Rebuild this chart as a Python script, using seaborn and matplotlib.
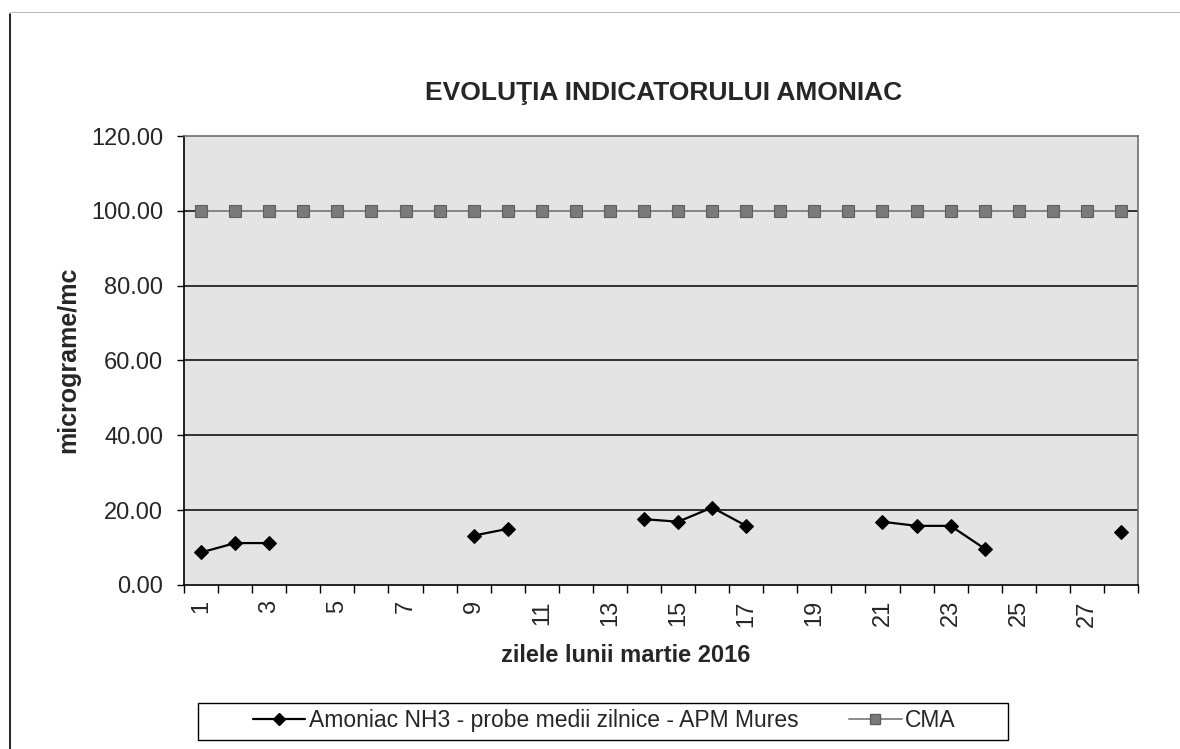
import numpy as np
import pandas as pd
import seaborn as sns
import matplotlib.pyplot as plt
from matplotlib.lines import Line2D
from matplotlib.patches import Rectangle
from matplotlib.ticker import FixedLocator, FixedFormatter

# -----------------------------
# DATA
# -----------------------------
days = list(range(1, 29))
amoniac = [8.7, 11.2, 11.2, np.nan, np.nan, np.nan, np.nan, np.nan, 13.2, 15.0,
           np.nan, np.nan, np.nan, 17.6, 16.9, 20.7, 15.8, np.nan, np.nan, np.nan,
           16.9, 15.8, 15.8, 9.7, np.nan, np.nan, np.nan, 14.2]
cma = [100.0] * 28
y_ticks = [0, 20, 40, 60, 80, 100, 120]
x_labels = [1, 3, 5, 7, 9, 11, 13, 15, 17, 19, 21, 23, 25, 27]

title = "EVOLUŢIA INDICATORULUI AMONIAC"
label_nh3 = "Amoniac NH3 - probe medii zilnice - APM Mures"
label_cma = "CMA"

# -----------------------------
# SETUP
# -----------------------------
sns.set_theme(style="white")
plt.rcParams['font.family'] = ['Liberation Sans', 'DejaVu Sans']

df = pd.DataFrame({'Zi': days, 'NH3': amoniac, 'CMA': cma})
# break the NH3 line where days are missing
df['seg'] = df['NH3'].isna().cumsum()
nh3 = df.dropna(subset=['NH3'])

fig = plt.figure(figsize=(11.8, 7.49), dpi=100)
ax = fig.add_axes([0.156, 0.219, 0.8084, 0.5994])
ax.set_facecolor('#E4E4E4')

for v in y_ticks[1:-1]:
    ax.axhline(v, color='black', lw=1.1, zorder=1)

sns.lineplot(data=df, x='Zi', y='CMA', ax=ax, color='#8A8A8A', lw=1.4,
             marker='s', markersize=9, markerfacecolor='#7A7A7A',
             markeredgecolor='#5E5E5E', markeredgewidth=0.8, zorder=3)
sns.lineplot(data=nh3, x='Zi', y='NH3', units='seg', estimator=None, ax=ax,
             color='black', lw=1.6, marker='D', markersize=7.5,
             markeredgecolor='black', zorder=4)

ax.set_xlim(0.5, 28.5)
ax.set_ylim(0, 120)
ax.set_xlabel('')
ax.set_ylabel('')

ax.yaxis.set_major_locator(FixedLocator(y_ticks))
ax.set_yticklabels([f"{v:.2f}" for v in y_ticks])
ax.tick_params(axis='y', which='major', direction='out', length=5, width=1,
               color='black', labelsize=17, pad=10, left=True)

ax.xaxis.set_major_locator(FixedLocator(x_labels))
ax.xaxis.set_major_formatter(FixedFormatter([str(v) for v in x_labels]))
ax.xaxis.set_minor_locator(FixedLocator([d + 0.5 for d in range(0, 29)]))
ax.tick_params(axis='x', which='major', length=0, labelsize=17,
               labelrotation=90, pad=11)
ax.tick_params(axis='x', which='minor', direction='out', length=6, width=1,
               color='black', bottom=True)

for side in ['left', 'bottom']:
    ax.spines[side].set_color('black')
    ax.spines[side].set_linewidth(1.2)
for side in ['top', 'right']:
    ax.spines[side].set_color('#707070')
    ax.spines[side].set_linewidth(1.2)

# -----------------------------
# TEXTS
# -----------------------------
fig.text(0.562, 0.876, title, ha='center', va='center', fontsize=19,
         fontweight='bold')
fig.text(0.058, 0.519, "micrograme/mc", ha='center', va='center',
         rotation=90, fontsize=18, fontweight='bold')
fig.text(0.53, 0.1255, "zilele lunii martie 2016", ha='center', va='center',
         fontsize=17, fontweight='bold')

# legend (frame drawn separately, Excel-style wide padding)
handles = [
    Line2D([], [], color='black', lw=1.6, marker='D', markersize=6),
    Line2D([], [], color='#8A8A8A', lw=1.4, marker='s', markersize=7,
           markerfacecolor='#7A7A7A', markeredgecolor='#5E5E5E'),
]
fig.legend(handles, [label_nh3, label_cma], loc='center',
           bbox_to_anchor=(0.512, 0.0374), ncol=2, fontsize=16.5,
           frameon=False, handlelength=2.3, handletextpad=0.15,
           columnspacing=2.2, borderpad=0, borderaxespad=0)
fig.add_artist(Rectangle((198 / 1180, 1 - 740 / 749), 810 / 1180, 37 / 749,
                         transform=fig.transFigure, fill=False,
                         edgecolor='black', lw=1.0))

# outer chart border
fig.add_artist(Line2D([0.0085, 0.0085], [0.0, 0.981], color='black', lw=1.2,
                      transform=fig.transFigure))
fig.add_artist(Line2D([0.0085, 1.0], [0.984, 0.984], color='#BBBBBB', lw=0.8,
                      transform=fig.transFigure))

fig.savefig("out.png", dpi=100, facecolor='white')
plt.close(fig)
